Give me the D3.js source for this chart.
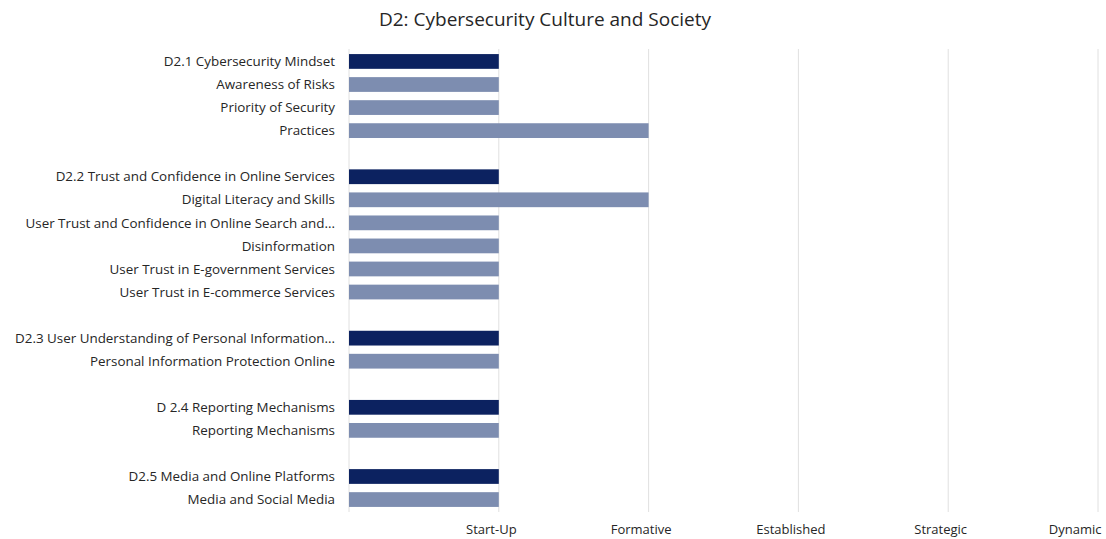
<!DOCTYPE html>
<html>
<head>
<meta charset="utf-8">
<script src="https://cdn.jsdelivr.net/npm/d3@7"></script>
<style>
  body { margin: 0; background: #fff; }
  svg text { font-family: "Open Sans", "Noto Sans", sans-serif; fill: #262626; }
</style>
</head>
<body>
<svg id="chart"></svg>
<script>
// rows top to bottom; blank strings are the spacer rows between groups
const categories = [
  'D2.1 Cybersecurity Mindset', 'Awareness of Risks', 'Priority of Security', 'Practices', '',
  'D2.2 Trust and Confidence in Online Services', 'Digital Literacy and Skills',
  'User Trust and Confidence in Online Search and...', 'Disinformation',
  'User Trust in E-government Services', 'User Trust in E-commerce Services', '',
  'D2.3 User Understanding of Personal Information...', 'Personal Information Protection Online', '',
  'D 2.4 Reporting Mechanisms', 'Reporting Mechanisms', '',
  'D2.5 Media and Online Platforms', 'Media and Social Media'
];
const values = [1, 1, 1, 2, null, 1, 2, 1, 1, 1, 1, null, 1, 1, null, 1, 1, null, 1, 1];
const isHeader = [true, false, false, false, false, true, false, false, false, false, false, false,
  true, false, false, true, false, false, true, false];
const stageLabels = ['Start-Up', 'Formative', 'Established', 'Strategic', 'Dynamic'];
const title = 'D2: Cybersecurity Culture and Society';

const width = 1106, height = 539;
const margin = { top: 49, right: 8, bottom: 27, left: 349 };
const innerW = width - margin.left - margin.right;
const innerH = height - margin.top - margin.bottom;

const svg = d3.select('#chart')
  .attr('width', width)
  .attr('height', height);

svg.append('text')
  .attr('x', 545)
  .attr('y', 26)
  .attr('text-anchor', 'middle')
  .attr('font-size', '19px')
  .attr('fill', '#404040')
  .text(title);

const g = svg.append('g')
  .attr('transform', `translate(${margin.left},${margin.top})`);

const rows = categories.map((c, i) => ({ key: 'r' + i, label: c, value: values[i], header: isHeader[i] }));

const x = d3.scaleLinear().domain([0, 5]).range([0, innerW]);
const y = d3.scaleBand().domain(rows.map(d => d.key)).range([0, innerH]).paddingInner(0.36).paddingOuter(0.22);

// gridlines
g.selectAll('.grid')
  .data(d3.range(0, 6))
  .join('line')
  .attr('x1', d => x(d))
  .attr('x2', d => x(d))
  .attr('y1', 0)
  .attr('y2', innerH)
  .attr('stroke', '#e0e0e0')
  .attr('stroke-width', 1);

// bars
g.selectAll('.bar')
  .data(rows.filter(d => d.value != null))
  .join('rect')
  .attr('x', x(0))
  .attr('y', d => y(d.key))
  .attr('width', d => x(d.value) - x(0))
  .attr('height', y.bandwidth())
  .attr('fill', d => d.header ? '#0c2260' : '#7d8db0');

// category labels
g.selectAll('.lbl')
  .data(rows.filter(d => d.label))
  .join('text')
  .attr('x', -14)
  .attr('y', d => y(d.key) + y.bandwidth() / 2)
  .attr('dy', '0.35em')
  .attr('text-anchor', 'end')
  .attr('font-size', '13.4px')
  .text(d => d.label);

// stage axis
const xAxis = d3.axisBottom(x)
  .tickValues([1, 2, 3, 4, 5])
  .tickFormat(d => stageLabels[d - 1])
  .tickSize(0)
  .tickPadding(13);

const ax = g.append('g')
  .attr('transform', `translate(0,${innerH})`)
  .call(xAxis);
ax.select('.domain').remove();
ax.selectAll('text')
  .attr('font-size', '13px')
  .attr('font-family', '"Open Sans", "Noto Sans", sans-serif')
  .attr('fill', '#262626')
  .attr('dx', -8);
// keep the last label inside the frame
ax.selectAll('.tick:last-of-type text')
  .attr('text-anchor', 'end')
  .attr('dx', 3);
</script>
</body>
</html>
